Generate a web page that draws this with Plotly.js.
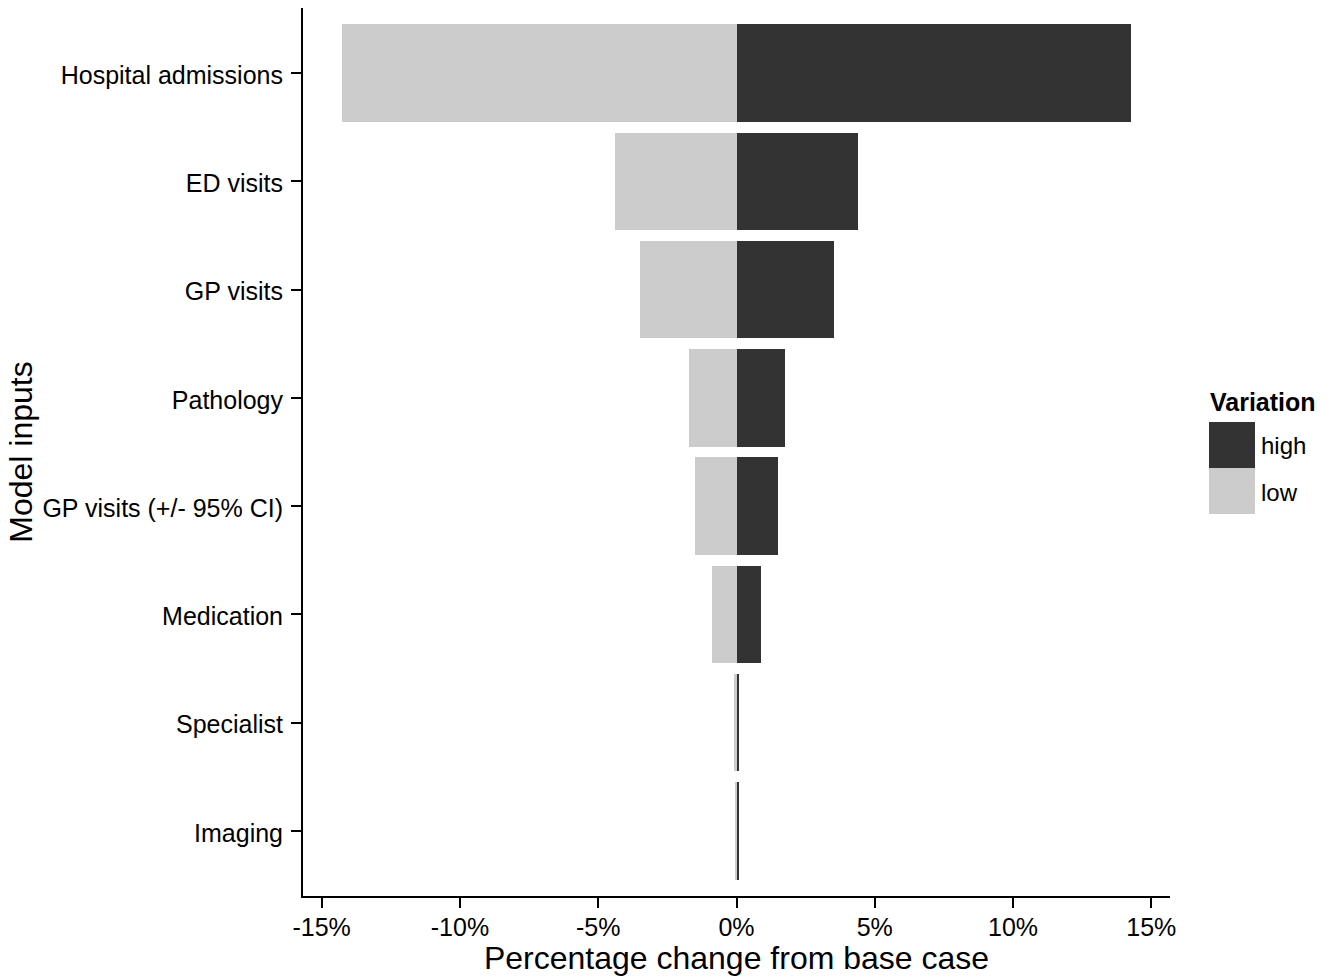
<!DOCTYPE html>
<html>
<head>
<meta charset="utf-8">
<script src="https://cdn.plot.ly/plotly-3.0.1.min.js"></script>
<style>html,body{margin:0;padding:0;background:#fff;}#chart{width:1335px;height:976px;}</style>
</head>
<body>
<div id="chart"></div>
<script>
// Data (percentage change from base case)
const inputs = ["Hospital admissions", "ED visits", "GP visits", "Pathology", "GP visits (+/- 95% CI)", "Medication", "Specialist", "Imaging"];
const lowValues = [-14.25, -4.41, -3.49, -1.72, -1.49, -0.90, -0.08, -0.06];
const highValues = [14.25, 4.41, 3.51, 1.74, 1.49, 0.90, 0.10, 0.08];
const xTickVals = [-15, -10, -5, 0, 5, 10, 15];
const xTickText = ["-15%", "-10%", "-5%", "0%", "5%", "10%", "15%"];
const legendTitle = "Variation";
const legendLabels = ["high", "low"];

const W = 1335, H = 976;
const M = {l: 303, r: 165, t: 8, b: 80};
const pw = W - M.l - M.r, ph = H - M.t - M.b;
const px = x => (x - M.l) / pw;
const py = y => (H - M.b - y) / ph;
const FONT = "Liberation Sans, Arial, sans-serif";
const HIGH_COL = "#333333", LOW_COL = "#CCCCCC";

const traces = [
  {type: "bar", orientation: "h", y: inputs, x: lowValues, width: 0.9, name: legendLabels[1],
   marker: {color: LOW_COL, line: {width: 0}}, showlegend: false, hoverinfo: "x+y"},
  {type: "bar", orientation: "h", y: inputs, x: highValues, width: 0.9, name: legendLabels[0],
   marker: {color: HIGH_COL, line: {width: 0}}, showlegend: false, hoverinfo: "x+y"}
];

const shapes = [
  {type: "rect", xref: "paper", yref: "paper", x0: px(1209), x1: px(1255), y0: py(468), y1: py(422), fillcolor: HIGH_COL, line: {width: 0}},
  {type: "rect", xref: "paper", yref: "paper", x0: px(1209), x1: px(1255), y0: py(514), y1: py(468), fillcolor: LOW_COL, line: {width: 0}}
];
const annotations = [
  {xref: "paper", yref: "paper", x: px(1208), y: py(402), xanchor: "left", yanchor: "middle", showarrow: false,
   text: "<b>" + legendTitle + "</b>", font: {family: FONT, size: 25, color: "#000"}},
  {xref: "paper", yref: "paper", x: px(1259), y: py(446), xanchor: "left", yanchor: "middle", showarrow: false,
   text: legendLabels[0], font: {family: FONT, size: 24, color: "#000"}},
  {xref: "paper", yref: "paper", x: px(1259), y: py(492), xanchor: "left", yanchor: "middle", showarrow: false,
   text: legendLabels[1], font: {family: FONT, size: 24, color: "#000"}}
];

const layout = {
  width: W, height: H,
  margin: M,
  paper_bgcolor: "#fff", plot_bgcolor: "#fff",
  barmode: "relative",
  bargap: 0,
  font: {family: FONT, color: "#000"},
  showlegend: false,
  xaxis: {
    range: [-15.675, 15.675], tickvals: xTickVals, ticktext: xTickText,
    showgrid: false, zeroline: false, showline: true, linecolor: "#000", linewidth: 2,
    ticks: "outside", ticklen: 10, tickwidth: 2, tickcolor: "#000",
    ticklabelstandoff: -2,
    tickfont: {family: FONT, size: 25, color: "#000"},
    title: {text: "Percentage change from base case", font: {family: FONT, size: 32, color: "#000"}, standoff: 5},
    automargin: false, fixedrange: true
  },
  yaxis: {
    type: "category", categoryorder: "array", categoryarray: inputs,
    range: [7.6, -0.6],
    showgrid: false, zeroline: false, showline: true, linecolor: "#000", linewidth: 2,
    ticks: "outside", ticklen: 10, tickwidth: 2, tickcolor: "#000",
    ticklabelstandoff: 3, ticklabelshift: -2,
    tickfont: {family: FONT, size: 25, color: "#000"},
    title: {text: "Model inputs", font: {family: FONT, size: 32, color: "#000"}, standoff: 0},
    automargin: false, fixedrange: true
  },
  shapes: shapes,
  annotations: annotations
};

Plotly.newPlot("chart", traces, layout, {displayModeBar: false, staticPlot: true});
</script>
</body>
</html>
